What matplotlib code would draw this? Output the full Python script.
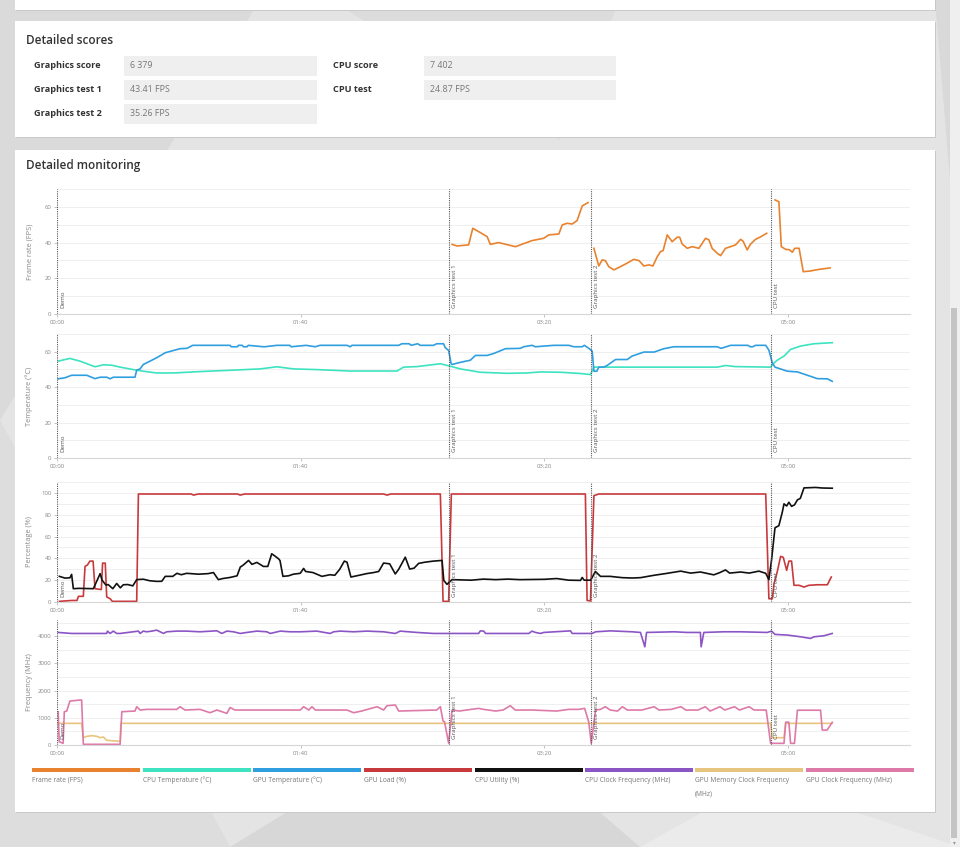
import numpy as np
import matplotlib.pyplot as plt
import matplotlib.transforms as mtransforms
from matplotlib.patches import Rectangle, Polygon

plt.rcParams['font.family'] = ['Open Sans', 'DejaVu Sans']

#####################
### SCORE TABLE ###
#####################
score_labels_left = ['Graphics score', 'Graphics test 1', 'Graphics test 2']
score_values_left = ['6 379', '43.41 FPS', '35.26 FPS']
score_labels_right = ['CPU score', 'CPU test']
score_values_right = ['7 402', '24.87 FPS']

#######################
### MONITORING DATA ###
#######################
# test markers, seconds from start
marker_names = ['Demo', 'Graphics test 1', 'Graphics test 2', 'CPU test']
marker_times = [0, 161, 219, 293]

time_ticks = [0, 100, 200, 300]
time_labels = ['00:00', '01:40', '03:20', '05:00']

# frame rate, one piece per test
fps_gt1_t = [162.1, 164.1, 168.9, 170.6, 173.7, 176.5, 177.8, 181.2, 188.1, 194.9, 199.7,
             201.8, 205.9, 207.3, 209.3, 211.4, 213.4, 215.5, 217.9]
fps_gt1_v = [39.0, 38.1, 38.7, 48.0, 45.6, 43.3, 39.0, 40.0, 37.7, 41.1, 42.4,
             44.3, 44.8, 49.9, 50.8, 50.4, 52.3, 60.5, 62.4]
fps_gt2_t = [220.3, 222.3, 223.7, 225.0, 226.4, 228.5, 232.6, 236.7, 238.8, 240.8, 242.9,
             244.5, 246.3, 247.6, 248.7, 250.4, 252.4, 254.5, 255.5, 256.5, 258.6, 260.6,
             263.4, 266.1, 267.5, 268.8, 270.9, 272.3, 274.3, 276.4, 278.4, 280.5, 281.5,
             283.2, 284.5, 286.6, 288.7, 291.2]
fps_gt2_v = [36.8, 26.9, 30.3, 29.9, 26.5, 24.7, 27.5, 30.6, 29.9, 26.9, 27.5,
             26.9, 32.1, 34.9, 35.5, 44.3, 40.5, 43.0, 43.0, 39.2, 36.8, 37.7,
             36.8, 42.4, 41.5, 36.8, 34.0, 32.7, 36.8, 37.7, 38.7, 41.8, 40.8,
             35.9, 39.0, 41.8, 43.2, 45.2]
fps_cpu_t = [294.6, 296.2, 297.2, 299.0, 300.5, 301.7, 302.7, 304.5, 306.2, 309.2, 312.7, 317.2]
fps_cpu_v = [63.9, 62.9, 37.7, 36.2, 36.0, 34.6, 36.8, 36.8, 23.7, 24.1, 25.0, 25.8]

cpu_temp_t = [0.5, 5.3, 9.4, 15.6, 19.0, 22.4, 25.9, 31.3, 35.4, 40.9, 47.8, 58.7, 72.4,
              83.4, 90.2, 97.0, 106.6, 120.3, 139.5, 142.2, 147.7, 157.3, 161.4, 165.5,
              173.7, 184.7, 192.9, 198.4, 206.6, 214.8, 218.9, 220.3, 270.9, 274.3, 278.4,
              292.8, 293.9, 295.5, 298.3, 301.0, 305.1, 310.6, 318.1]
cpu_temp_v = [54.7, 56.2, 54.7, 51.5, 52.6, 52.4, 51.3, 49.9, 49.0, 48.0, 48.0, 48.8, 49.6,
              50.3, 51.5, 50.3, 49.9, 49.1, 49.1, 51.3, 51.6, 53.2, 51.8, 50.3,
              48.4, 47.8, 48.0, 48.6, 48.4, 47.7, 47.1, 51.3, 51.3, 52.2, 51.6,
              51.3, 53.2, 55.2, 57.5, 61.3, 63.2, 64.5, 65.1]

gpu_temp_t = [0.5, 3.3, 6.0, 12.2, 15.6, 17.7, 20.4, 21.8, 23.1, 32.0, 32.7, 34.1, 35.4,
              38.2, 40.9, 44.4, 47.8, 50.5, 53.3, 55.7, 71.0, 71.5, 74.0, 74.5, 76.0, 76.5,
              78.0, 78.5, 84.7, 85.2, 90.2, 95.5, 96.1, 102.2, 106.0, 107.9, 119.0, 120.3,
              121.0, 140.2, 141.5, 144.5, 145.3, 148.0, 149.0, 154.5, 155.8, 158.6, 159.3,
              160.7, 161.7, 162.1, 165.5, 169.6, 171.7, 176.5, 179.2, 184.0, 190.1, 191.5,
              194.9, 196.3, 203.8, 210.0, 212.0, 215.5, 216.4, 218.2, 219.6, 220.3, 221.5,
              222.3, 224.3, 225.7, 229.2, 234.0, 235.9, 240.8, 245.0, 249.0, 253.1, 270.9,
              272.5, 276.4, 283.5, 284.5, 285.5, 286.6, 290.8, 292.1, 293.5, 294.6, 299.7,
              303.8, 307.9, 312.0, 316.1, 318.1]
gpu_temp_v = [44.7, 45.3, 46.7, 46.7, 44.8, 45.6, 45.6, 44.7, 45.6, 45.6, 49.6, 50.3, 52.8,
              54.7, 56.6, 59.4, 60.7, 61.7, 61.9, 63.6, 63.6, 62.8, 62.8, 63.6, 63.6, 62.8,
              62.8, 63.6, 62.8, 62.8, 63.6, 63.6, 62.8, 63.6, 62.8, 63.6, 63.6, 62.8,
              63.6, 63.6, 64.5, 64.5, 63.6, 64.5, 63.6, 63.6, 64.5, 64.5, 62.3,
              60.7, 53.3, 52.8, 54.0, 55.2, 57.9, 57.9, 59.0, 61.7, 61.9, 62.8,
              63.6, 62.8, 63.6, 63.6, 62.8, 62.8, 63.6, 61.9, 60.3, 49.0, 49.0,
              51.3, 51.3, 52.2, 55.6, 55.6, 57.5, 59.8, 59.8, 61.7, 62.8, 62.8,
              61.9, 63.6, 63.6, 62.8, 62.8, 63.6, 63.6, 60.9, 53.7, 51.3, 49.0,
              48.6, 46.7, 44.8, 44.7, 43.3]

gpu_load_t = [1.0, 6.0, 8.2, 8.8, 10.8, 11.5, 12.5, 13.5, 14.8, 15.6, 18.2, 18.7, 19.8,
              20.4, 21.8, 22.7, 32.7, 33.4, 55.0, 56.0, 58.0, 74.0, 75.2, 77.0, 134.0,
              135.4, 137.0, 157.3, 158.4, 160.7, 161.8, 216.8, 217.5, 218.9, 220.3, 222.3,
              290.8, 292.1, 293.5, 294.2, 295.5, 296.9, 298.0, 299.4, 300.3, 301.4, 302.4,
              304.5, 306.5, 308.5, 312.0, 316.1, 317.7]
gpu_load_v = [0.6, 1.4, 1.4, 5.2, 5.2, 32.6, 34.0, 37.5, 37.5, 12.2, 11.4, 35.6, 35.6,
              4.6, 3.0, 0.6, 0.6, 99.0, 99.0, 98.0, 99.0, 99.0, 98.0, 99.0, 99.0,
              98.0, 99.0, 99.0, 0.6, 0.6, 99.0, 99.0, 1.4, 1.0, 97.5, 99.0,
              99.0, 3.0, 3.0, 16.8, 27.4, 41.8, 41.0, 29.0, 37.5, 37.5, 15.3,
              15.3, 13.7, 15.3, 15.8, 15.8, 22.9]

cpu_util_t = [1.0, 3.3, 5.3, 6.0, 6.7, 9.0, 14.9, 16.5, 17.7, 18.5, 20.1, 21.0, 22.9, 24.5,
              26.0, 27.2, 29.0, 31.1, 32.7, 35.4, 38.0, 40.9, 43.0, 44.4, 47.5, 49.2, 51.0,
              53.2, 58.0, 62.0, 64.2, 66.2, 68.0, 71.0, 73.9, 75.2, 76.5, 78.6, 80.0, 82.0,
              84.7, 86.5, 88.1, 89.5, 90.9, 91.5, 92.7, 95.0, 97.0, 99.8, 101.2, 102.0,
              105.0, 108.7, 112.0, 114.0, 116.0, 117.9, 119.0, 120.6, 124.0, 127.0, 129.9,
              132.0, 134.0, 136.5, 138.8, 140.2, 142.9, 144.7, 146.5, 148.4, 151.0, 154.5,
              158.0, 158.7, 160.0, 162.1, 170.0, 175.0, 180.0, 185.0, 190.0, 200.0, 205.0,
              210.0, 214.8, 215.5, 216.3, 219.0, 220.9, 223.0, 227.0, 229.0, 232.0, 236.0,
              239.4, 245.0, 250.4, 255.9, 260.0, 264.0, 269.5, 272.0, 274.3, 276.0, 280.5,
              284.0, 288.0, 290.8, 292.1, 293.2, 294.6, 296.2, 297.6, 298.3, 299.4, 300.3,
              301.4, 302.6, 303.8, 305.0, 306.5, 311.3, 314.0, 318.1]
cpu_util_v = [23.5, 21.9, 22.2, 25.3, 12.2, 12.5, 12.2, 20.0, 26.0, 20.0, 15.5, 16.0, 12.2, 17.0,
              13.0, 15.8, 16.0, 14.8, 20.5, 20.9, 19.5, 18.9, 19.0, 23.5, 23.5, 26.3, 25.0,
              26.3, 25.5, 26.0, 27.0, 20.5, 21.5, 22.5, 24.0, 32.0, 34.0, 38.1, 34.5, 36.3,
              32.6, 32.6, 44.2, 42.0, 39.6, 38.0, 23.5, 24.0, 25.5, 26.3, 30.8, 28.0,
              27.0, 23.5, 25.0, 24.5, 30.0, 37.5, 36.5, 22.9, 24.5, 26.0, 27.0,
              28.0, 35.7, 35.0, 25.7, 30.0, 41.1, 30.2, 31.0, 35.4, 36.5, 37.5,
              38.1, 19.8, 16.2, 20.5, 20.0, 21.0, 20.5, 21.0, 20.5, 20.8, 21.5,
              20.0, 19.8, 22.5, 20.0, 20.0, 28.0, 23.5, 23.5, 23.0, 22.3, 22.0,
              22.3, 24.5, 26.3, 28.3, 26.5, 27.5, 24.9, 27.0, 29.4, 26.5, 27.5,
              26.5, 28.3, 26.3, 20.5, 38.8, 68.0, 70.0, 82.3, 90.0, 88.0, 91.4,
              87.7, 89.0, 93.6, 95.0, 104.6, 105.0, 104.5, 104.3]

cpu_clock_t = [0.5, 6.0, 20.4, 20.7, 21.8, 23.1, 24.5, 25.9, 33.4, 34.1, 35.4, 36.8, 38.9,
               40.9, 43.7, 45.0, 49.1, 53.2, 58.7, 65.6, 67.6, 69.7, 72.4, 75.2, 77.9, 82.0,
               86.1, 87.5, 91.6, 95.7, 99.8, 106.6, 112.1, 113.5, 116.2, 121.7, 127.2, 134.0,
               138.8, 140.8, 147.7, 154.5, 160.0, 173.0, 173.7, 175.1, 175.8, 193.6, 194.9,
               196.3, 198.4, 199.7, 210.7, 211.4, 219.6, 221.0, 227.1, 236.0, 239.4, 241.2,
               241.9, 253.1, 258.6, 264.0, 264.3, 265.4, 273.6, 280.5, 291.4, 293.2, 294.6,
               299.7, 305.1, 309.2, 310.6, 314.7, 318.1]
cpu_clock_v = [4142, 4105, 4105, 4191, 4105, 4191, 4105, 4105, 4191, 4105, 4191, 4166, 4191,
               4228, 4105, 4166, 4191, 4191, 4166, 4203, 4105, 4191, 4166, 4105, 4142, 4191,
               4166, 4105, 4191, 4166, 4166, 4191, 4105, 4166, 4191, 4166, 4191, 4166,
               4105, 4191, 4142, 4105, 4105, 4105, 4200, 4191, 4105, 4105, 4191,
               4142, 4105, 4142, 4200, 4105, 4105, 4166, 4200, 4166, 4142, 3614,
               4142, 4166, 4142, 4142, 3614, 4142, 4166, 4166, 4142, 4191, 4070,
               4045, 3982, 3922, 3982, 4020, 4105]

gpu_mem_t = [0.5, 10.1, 10.8, 12.2, 14.3, 16.3, 17.7, 19.0, 20.4, 25.9, 26.2, 292.8, 293.5,
             298.3, 299.0, 318.1]
gpu_mem_v = [797, 797, 270, 319, 343, 319, 270, 294, 172, 135, 797, 797, 268,
             268, 797, 797]

gpu_clock_t = [0.5, 0.9, 2.5, 3.0, 4.0, 5.3, 9.4, 10.1, 10.8, 25.9, 26.6, 32.0, 32.7, 34.1,
               36.8, 49.1, 50.5, 52.5, 58.7, 62.8, 65.6, 69.7, 71.0, 73.0, 99.8, 101.2,
               103.3, 104.6, 106.0, 112.1, 119.0, 121.7, 125.0, 131.3, 134.0, 135.4, 138.8,
               140.2, 155.8, 157.3, 158.4, 159.0, 160.7, 162.1, 165.0, 170.0, 173.0, 175.0,
               180.0, 183.0, 186.0, 188.0, 195.0, 205.0, 210.0, 214.0, 216.5, 218.2, 219.2,
               221.0, 223.0, 225.0, 227.0, 230.0, 232.0, 234.0, 240.0, 245.0, 247.0, 252.0,
               256.0, 258.0, 263.0, 266.0, 268.0, 272.0, 274.0, 278.0, 280.0, 284.0, 286.0,
               291.0, 292.8, 298.3, 299.0, 300.3, 301.0, 302.6, 303.8, 313.3, 314.0, 316.0,
               318.1]
gpu_clock_v = [1225, 123, 61, 1225, 1250, 1618, 1654, 1654, 25, 25, 1225, 1250, 1409, 1287,
               1311, 1311, 1409, 1287, 1311, 1188, 1287, 1164, 1380, 1287, 1287, 1409,
               1287, 1409, 1287, 1287, 1287, 1188, 1250, 1409, 1287, 1446, 1471,
               1250, 1287, 1409, 882, 858, 61, 1287, 1250, 1311, 1348, 1311,
               1250, 1287, 1446, 1287, 1287, 1250, 1311, 1311, 1348, 840, 61,
               1287, 1311, 1409, 1287, 1250, 1409, 1287, 1287, 1409, 1287, 1311,
               1409, 1287, 1287, 1409, 1250, 1409, 1287, 1409, 1287, 1409, 1287,
               1287, 61, 61, 840, 840, 61, 61, 1280, 1280, 551, 551,
               835]

legend_names = ['Frame rate (FPS)', 'CPU Temperature (°C)', 'GPU Temperature (°C)',
                'GPU Load (%)', 'CPU Utility (%)', 'CPU Clock Frequency (MHz)',
                'GPU Memory Clock Frequency', 'GPU Clock Frequency (MHz)']
legend_colors = ['#e8822e', '#3de3c0', '#2f9fe0', '#c8393c', '#111111', '#8c55c6',
                 '#e8c57f', '#de7aa8']

#############
### FIGURE ###
#############
W, H = 960, 847
fig = plt.figure(figsize=(W / 100, H / 100), dpi=100, facecolor='#e4e4e4')

# full-figure layer for the page (pixel coords, y down)
bg = fig.add_axes([0, 0, 1, 1])
bg.set_xlim(0, W)
bg.set_ylim(H, 0)
bg.axis('off')

# low-poly page background
for pts, col in [([(0, 0), (260, 0), (0, 420)], '#dadada'),
                 ([(0, 420), (0, 847), (230, 847)], '#dddddd'),
                 ([(230, 847), (470, 700), (640, 847)], '#d7d7d7'),
                 ([(640, 847), (760, 780), (960, 847)], '#ebebeb'),
                 ([(935, 0), (960, 0), (960, 300)], '#d9d9d9'),
                 ([(330, 0), (560, 140), (620, 0)], '#dcdcdc')]:
    bg.add_patch(Polygon(pts, closed=True, fc=col, ec='none', zorder=0))

# cards with a faint shadow
for x0, y0, w, h in [(15, -6, 920, 16), (15, 21, 920, 116), (15, 150, 920, 662)]:
    bg.add_patch(Rectangle((x0 + 0.5, y0 + 1.5), w, h, fc='#c9c9c9', ec='none', zorder=1))
    bg.add_patch(Rectangle((x0, y0), w, h, fc='white', ec='none', zorder=2))

# scrollbar
bg.add_patch(Rectangle((950, 0), 10, H, fc='#efefef', ec='none', zorder=1))
bg.add_patch(Rectangle((951, 308), 6, 530, fc='#c4c4c4', ec='none', zorder=2))
bg.text(954, 843, '▾', fontsize=4, color='#999', ha='center', va='center', zorder=3)

# detailed scores
bg.text(26, 40, 'Detailed scores', fontsize=8.5, weight='semibold', color='#333333',
        va='center', zorder=3)
row_y = [65.8, 90.0, 114.0]
for i, (lab, val) in enumerate(zip(score_labels_left, score_values_left)):
    bg.text(34, row_y[i], lab, fontsize=6.6, weight='bold', color='#333333', va='center', zorder=3)
    bg.add_patch(Rectangle((124, row_y[i] - 10), 193, 20, fc='#efefef', ec='none', zorder=2))
    bg.text(130, row_y[i], val, fontsize=6.4, color='#777777', va='center', zorder=3)
for i, (lab, val) in enumerate(zip(score_labels_right, score_values_right)):
    bg.text(333, row_y[i], lab, fontsize=6.6, weight='bold', color='#333333', va='center', zorder=3)
    bg.add_patch(Rectangle((424, row_y[i] - 10), 192, 20, fc='#efefef', ec='none', zorder=2))
    bg.text(430, row_y[i], val, fontsize=6.4, color='#777777', va='center', zorder=3)

bg.text(26, 165, 'Detailed monitoring', fontsize=8.5, weight='semibold', color='#333333',
        va='center', zorder=3)

# legend bars
leg_x = [32, 143, 253, 364, 475, 585, 695, 806]
for x0, name, col in zip(leg_x, legend_names, legend_colors):
    bg.add_patch(Rectangle((x0, 768.5), 108, 4, fc=col, ec='none', zorder=3))
    bg.text(x0, 780, name, fontsize=4.8, color='#777777', va='center', zorder=3)
bg.text(leg_x[6], 794, '(MHz)', fontsize=4.8, color='#777777', va='center', zorder=3)


def px_axes(top, bottom, left=57, right=910):
    return [left / W, 1 - bottom / H, (right - left) / W, (bottom - top) / H]


def setup_panel(ax, ymax, major, minor, ylabel):
    ax.set_facecolor('none')
    ax.set_xlim(0, 350)
    ax.set_ylim(0, ymax)
    for s in ['top', 'right', 'left']:
        ax.spines[s].set_visible(False)
    ax.spines['bottom'].set_color('#d6d6d6')
    ax.spines['bottom'].set_linewidth(0.8)
    ax.set_yticks(major)
    ax.set_yticks(minor, minor=True)
    ax.grid(True, which='both', axis='y', color='#efefef', lw=0.7)
    ax.set_axisbelow(True)
    ax.tick_params(which='major', length=2.5, width=0.5, color='#aaaaaa',
                   labelsize=4.3, labelcolor='#888888', pad=1.5)
    ax.tick_params(which='minor', length=0)
    ax.set_xticks(time_ticks)
    ax.set_xticklabels(time_labels)
    ax.set_ylabel(ylabel, fontsize=5.3, color='#888888')
    ax.yaxis.set_label_coords(-0.028, 0.5)
    trans = mtransforms.blended_transform_factory(ax.transData, ax.transAxes)
    for t, name in zip(marker_times, marker_names):
        ax.axvline(t, color='#555555', ls=(0, (1, 1)), lw=0.8, zorder=4)
        ax.text(t + 1.2, 0.045, name, transform=trans, rotation=90, fontsize=4.5,
                color='#555555', ha='left', va='bottom', zorder=5)


lw = 1.2

# frame rate
ax1 = fig.add_axes(px_axes(189, 314))
setup_panel(ax1, 70, [0, 20, 40, 60], np.arange(0, 71, 10), 'Frame rate (FPS)')
fps_t = fps_gt1_t + [np.nan] + fps_gt2_t + [np.nan] + fps_cpu_t
fps_v = fps_gt1_v + [np.nan] + fps_gt2_v + [np.nan] + fps_cpu_v
ax1.plot(fps_t, fps_v, color=legend_colors[0], lw=lw)

# temperature
ax2 = fig.add_axes(px_axes(334, 458))
setup_panel(ax2, 70, [0, 20, 40, 60], np.arange(0, 71, 10), 'Temperature (°C)')
ax2.plot(cpu_temp_t, cpu_temp_v, color=legend_colors[1], lw=lw)
ax2.plot(gpu_temp_t, gpu_temp_v, color=legend_colors[2], lw=lw)

# percentage
ax3 = fig.add_axes(px_axes(482, 602))
setup_panel(ax3, 110, [0, 20, 40, 60, 80, 100], np.arange(0, 111, 10), 'Percentage (%)')
ax3.plot(gpu_load_t, gpu_load_v, color=legend_colors[3], lw=lw)
ax3.plot(cpu_util_t, cpu_util_v, color=legend_colors[4], lw=lw)

# frequency
ax4 = fig.add_axes(px_axes(620, 745))
setup_panel(ax4, 4600, [0, 1000, 2000, 3000, 4000], np.arange(0, 4600, 500), 'Frequency (MHz)')
ax4.plot(cpu_clock_t, cpu_clock_v, color=legend_colors[5], lw=lw)
ax4.plot(gpu_mem_t, gpu_mem_v, color=legend_colors[6], lw=lw)
ax4.plot(gpu_clock_t, gpu_clock_v, color=legend_colors[7], lw=lw)

fig.savefig('out.png', dpi=100, facecolor=fig.get_facecolor())
